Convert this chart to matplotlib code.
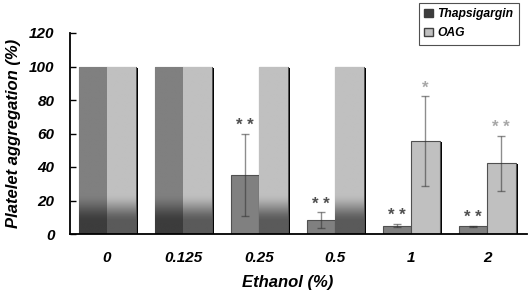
import matplotlib
matplotlib.use('Agg')
import matplotlib.pyplot as plt
import numpy as np
from matplotlib.patches import Patch

plt.rcParams['font.family'] = ['Liberation Sans', 'DejaVu Sans']

ethanol = ['0', '0.125', '0.25', '0.5', '1', '2']
thapsigargin = [100, 100, 35.5, 8.3, 5.0, 4.5]
thapsigargin_err = [0, 0, 24.5, 4.6, 1.0, 0.5]
oag = [100, 100, 100, 100, 55.5, 42.2]
oag_err = [0, 0, 0, 0, 26.8, 16.6]
thapsigargin_sig = ['', '', '**', '**', '**', '**']
oag_sig = ['', '', '', '', '*', '**']

THAP_COLOR = '#808080'
OAG_COLOR = '#c0c0c0'
width = 0.375


def shade_bottom(ax, bar, base, dark):
    # darken the lower part of a full-height bar
    x0 = bar.get_x()
    h = bar.get_height()
    ys = np.linspace(0, h, 200)
    t = np.clip((ys - 7) / 17, 0, 1)
    t = t * t * (3 - 2 * t)
    base = np.array(matplotlib.colors.to_rgb(base))
    dark = np.array(matplotlib.colors.to_rgb(dark))
    cols = dark[None, :] + (base - dark)[None, :] * t[:, None]
    im = ax.imshow(cols[:, None, :], extent=(x0, x0 + bar.get_width(), 0, h),
                   origin='lower', aspect='auto', zorder=bar.get_zorder() + 0.1,
                   interpolation='bilinear')
    im.set_clip_path(bar)


fig = plt.figure(figsize=(5.3, 2.91), dpi=100)
ax = fig.add_axes([70 / 530, 1 - 234 / 291, 457 / 530, 201 / 291])

x = np.arange(len(ethanol))
xt = x - width / 2
xo = x + width / 2

# drop shadow on the right side
ax.bar(xo + 0.035, np.array(oag) - 0.6, width, bottom=0, color='black',
       zorder=1)

bt = ax.bar(xt, thapsigargin, width, color=THAP_COLOR, edgecolor='#505050',
            linewidth=0.8, zorder=2)
bo = ax.bar(xo, oag, width, color=OAG_COLOR, edgecolor='#505050',
            linewidth=0.8, zorder=2)

for bar, v in zip(bt, thapsigargin):
    if v >= 100:
        shade_bottom(ax, bar, THAP_COLOR, '#3c3c3c')
for bar, v in zip(bo, oag):
    if v >= 100:
        shade_bottom(ax, bar, OAG_COLOR, '#5a5a5a')

for xs, vals, errs in ((xt, thapsigargin, thapsigargin_err),
                       (xo, oag, oag_err)):
    for xi, v, e in zip(xs, vals, errs):
        if e > 0:
            ax.errorbar(xi, v, yerr=e, fmt='none', ecolor='#303030',
                        alpha=0.55, elinewidth=1, capsize=3, capthick=1,
                        zorder=4)

for xs, vals, errs, sig, col in ((xt, thapsigargin, thapsigargin_err,
                                  thapsigargin_sig, '#505050'),
                                 (xo, oag, oag_err, oag_sig, '#a8a8a8')):
    for xi, v, e, s in zip(xs, vals, errs, sig):
        if s:
            ax.annotate(' '.join(s), (xi, v + e), xytext=(0, 6),
                        textcoords='offset points', ha='center', va='center',
                        fontsize=12, fontweight='bold', color=col, zorder=5)

ax.set_xlim(-0.487, 5.526)
ax.set_ylim(0, 120)
ax.set_yticks(np.arange(0, 121, 20))
ax.set_xticks(x)
ax.set_xticklabels(ethanol)
ax.tick_params(axis='x', length=0, pad=12)
ax.tick_params(axis='y', direction='in', length=4, width=1, pad=11)
for lab in ax.get_xticklabels() + ax.get_yticklabels():
    lab.set_fontsize(11)
    lab.set_fontweight('bold')
    lab.set_fontstyle('italic')

for side in ('top', 'right'):
    ax.spines[side].set_visible(False)
for side in ('left', 'bottom'):
    ax.spines[side].set_linewidth(1.3)

ax.set_xlabel('Ethanol (%)', fontsize=12, fontweight='bold',
              fontstyle='italic')
ax.xaxis.set_label_coords(0.477, -0.205)
ax.set_ylabel('Platelet aggregation (%)', fontsize=12, fontweight='bold',
              fontstyle='italic', labelpad=6)

handles = [Patch(facecolor='#3c3c3c', edgecolor='#3c3c3c', label='Thapsigargin'),
           Patch(facecolor=OAG_COLOR, edgecolor='#404040', label='OAG')]
leg = fig.legend(handles=handles, loc='upper right',
                 bbox_to_anchor=(519 / 530, 1 - 3 / 291), fancybox=False,
                 framealpha=1, edgecolor='#505050', handlelength=0.7,
                 handleheight=0.7, handletextpad=0.4, borderpad=0.45,
                 labelspacing=0.55, borderaxespad=0,
                 prop={'size': 8.7, 'weight': 'bold', 'style': 'italic'})
leg.get_frame().set_linewidth(0.8)

fig.savefig('out.png', dpi=100)
